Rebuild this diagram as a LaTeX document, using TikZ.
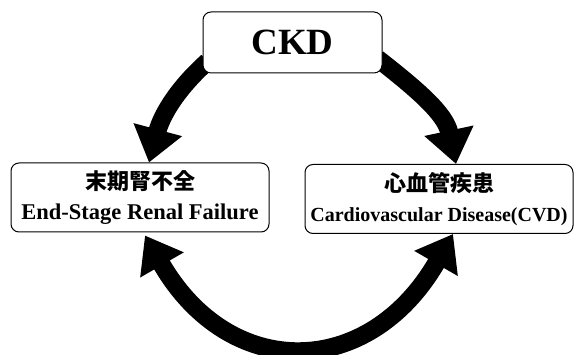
\documentclass[tikz,border=0pt]{standalone}
\usepackage{fontspec}
\setmainfont{Liberation Serif}
\newfontfamily\cjk{Noto Sans CJK JP}
\usetikzlibrary{arrows.meta,positioning,backgrounds}
\tikzstyle{title} = [rectangle, rounded corners=8pt, minimum width=179pt, minimum height=61pt, draw=black, line width=1pt, fill=white, font=\bfseries\fontsize{37}{40}\selectfont]
\tikzstyle{stage} = [rectangle, rounded corners=8pt, minimum height=69pt, draw=black, line width=1pt, fill=white, align=center, font=\bfseries\fontsize{22.5}{30}\selectfont]
\tikzstyle{bigarrow} = [line width=18pt, -{Triangle[width=48pt,length=34pt]}]
\tikzstyle{bothway} = [line width=18pt, {Triangle[width=48pt,length=34pt]}-{Triangle[width=48pt,length=34pt]}]

\begin{document}
\begin{tikzpicture}[x=1pt,y=1pt]
\useasboundingbox (0,0) rectangle (580,355);
\node (ckd) [title] at (292.5,312.5) {CKD};
\node (esrf) [stage, minimum width=258pt] at (140,157.5) {{\cjk\fontsize{22}{30}\selectfont 末期腎不全}\\End-Stage Renal Failure};
\node (cvd) [stage, minimum width=268pt, font=\bfseries\fontsize{20}{30}\selectfont] at (439,156) {{\cjk\fontsize{22}{30}\selectfont 心血管疾患}\\Cardiovascular Disease(CVD)};

\begin{pgfonlayer}{background}
\draw [bigarrow] ([xshift=5pt,yshift=12pt]ckd.south west) to[out=222,in=75] ([xshift=9pt]esrf.north);
\draw [bigarrow] ([xshift=-5pt,yshift=15pt]ckd.south east) to[out=322,in=102] ([xshift=17pt]cvd.north);
\draw [bothway] ([xshift=5pt,yshift=-3pt]esrf.south) to[out=300,in=240,looseness=1.4] ([xshift=14pt]cvd.south);
\end{pgfonlayer}
\end{tikzpicture}
\end{document}
